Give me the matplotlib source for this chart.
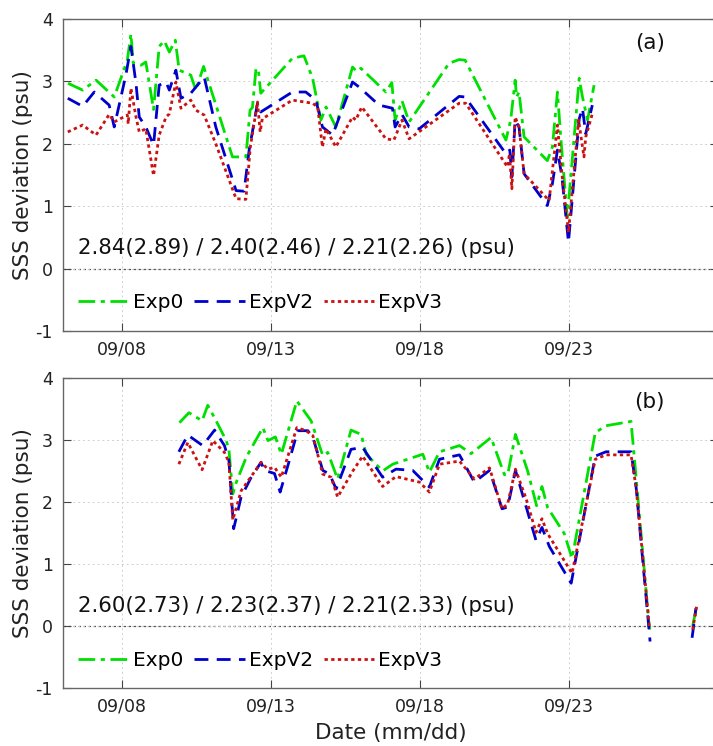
import numpy as np
import matplotlib
matplotlib.use("Agg")
import matplotlib.pyplot as plt

plt.rcParams['font.family'] = ['DejaVu Sans']
plt.rcParams['axes.unicode_minus'] = False

# ---------------- data (day of September, SSS deviation in psu) ----------------
series_names = ["Exp0", "ExpV2", "ExpV3"]
tick_days = [8, 13, 18, 23]
tick_labels = ["09/08", "09/13", "09/18", "09/23"]
ytick_vals = [-1, 0, 1, 2, 3, 4]
stats_a = "2.84(2.89) / 2.40(2.46) / 2.21(2.26) (psu)"
stats_b = "2.60(2.73) / 2.23(2.37) / 2.21(2.33) (psu)"
panel_tags = ["(a)", "(b)"]

# Panel (a)
a_exp0_day = [6.18, 6.67, 7.12, 7.73, 8.17, 8.29, 8.37, 8.63, 8.79, 9.05, 9.24, 9.41, 9.58, 9.78,
              9.91, 10.3, 10.47, 10.73, 11.7, 12.15, 12.29, 12.37, 12.49, 12.57, 12.65, 13.71,
              14.1, 14.39, 14.67, 14.84, 15.17, 15.73, 15.87, 16.01, 16.85, 17.05, 17.16, 17.39,
              17.63, 18.97, 19.31, 19.51, 20.88, 21.04, 21.19, 21.24, 21.32, 21.49, 22.27, 22.44,
              22.61, 22.72, 22.94, 23.34, 23.45, 23.62, 23.84]
a_exp0_val = [2.97, 2.86, 3.02, 2.75, 3.34, 3.76, 3.29, 3.26, 3.31, 2.55, 3.56, 3.65, 3.47, 3.66,
              3.18, 3.10, 2.86, 3.24, 1.79, 1.79, 2.54, 2.58, 3.21, 3.18, 2.81, 3.37,
              3.41, 3.05, 2.38, 2.59, 2.27, 3.23, 3.16, 3.21, 2.83, 2.98, 2.38, 2.69,
              2.35, 3.29, 3.35, 3.34, 2.06, 2.38, 3.02, 2.75, 2.83, 2.11, 1.73, 1.95,
              2.83, 2.11, 0.82, 3.05, 2.75, 2.38, 2.94]

a_expv2_day = [6.17, 6.67, 7.06, 7.56, 7.73, 8.12, 8.29, 8.46, 8.57, 8.79, 9.05, 9.24, 9.47, 9.58,
               9.8, 9.97, 10.3, 10.75, 11.14, 11.82, 12.09, 12.26, 12.54, 12.65, 13.71, 14.16,
               14.5, 14.72, 15.06, 15.73, 15.95, 16.62, 17.07, 17.16, 17.39, 17.63, 17.97, 19.31,
               19.51, 20.88, 21.01, 21.08, 21.19, 21.32, 21.49, 22.27, 22.44, 22.61, 22.76, 22.98,
               23.34, 23.45, 23.56, 23.78]
a_expv2_val = [2.73, 2.60, 2.83, 2.62, 2.27, 3.10, 3.56, 2.97, 2.43, 2.27, 1.98, 2.94, 2.99, 2.86,
               3.18, 2.73, 2.81, 3.07, 2.27, 1.25, 1.24, 1.90, 2.65, 2.51, 2.83, 2.83,
               2.70, 2.27, 2.14, 2.99, 2.91, 2.62, 2.57, 2.27, 2.47, 2.27, 2.24, 2.76,
               2.75, 1.84, 1.90, 1.47, 2.38, 2.27, 1.52, 1.01, 1.36, 1.90, 1.47, 0.42,
               2.40, 2.57, 2.16, 2.62]

a_expv3_day = [6.17, 6.67, 7.12, 7.56, 7.73, 8.17, 8.2, 8.29, 8.46, 8.57, 8.79, 9.05, 9.24, 9.47,
               9.58, 9.8, 9.97, 10.3, 10.47, 10.75, 11.14, 11.82, 12.15, 12.3, 12.54, 12.63, 12.7,
               13.71, 14.39, 14.56, 14.72, 14.84, 15.17, 15.73, 15.84, 16.04, 16.85, 17.12, 17.39,
               17.63, 19.31, 19.53, 20.93, 21.0, 21.08, 21.19, 21.32, 21.49, 22.33, 22.61, 22.76,
               22.98, 23.32, 23.5, 23.56, 23.78]
a_expv3_val = [2.19, 2.30, 2.14, 2.47, 2.35, 2.46, 2.32, 2.89, 2.43, 2.19, 2.24, 1.49, 2.14, 2.43,
               2.48, 2.99, 2.57, 2.70, 2.54, 2.46, 2.00, 1.12, 1.11, 1.95, 2.67, 2.19, 2.40,
               2.70, 2.65, 2.59, 1.95, 2.24, 1.95, 2.43, 2.38, 2.59, 2.08, 2.06, 2.38,
               2.08, 2.65, 2.65, 1.63, 1.84, 1.28, 2.43, 2.27, 1.52, 1.09, 2.30, 1.52,
               0.58, 2.38, 1.79, 2.11, 2.48]

# Panel (b)  (nan = data gap)
b_exp0_day = [9.92, 10.24, 10.68, 10.87, 11.15, 11.49, 11.58, 11.71, 11.83, 12.16, 12.72, 12.89,
              13.14, 13.34, 13.86, 14.34, 14.73, 14.9, 15.23, 15.68, 16.02, 16.19, 16.74, 17.08,
              18.09, 18.31, 18.65, 19.32, 19.71, 20.38, 20.83, 20.94, 21.2, 21.61, 21.91, 22.09,
              22.28, 22.84, 23.1, 23.88, 24.24, 25.08, 25.25, 25.7, 26.4, 27.15, 27.28]
b_exp0_val = [3.28, 3.44, 3.31, 3.56, 3.31, 2.99, 2.85, 2.13, 2.32, 2.72, 3.20, 2.99,
              3.05, 2.77, 3.63, 3.31, 2.75, 2.80, 2.37, 3.16, 3.09, 2.77, 2.50, 2.61,
              2.77, 2.48, 2.81, 2.91, 2.78, 3.04, 2.44, 2.44, 3.09, 2.50, 1.94, 2.25,
              1.91, 1.49, 1.09, 3.12, 3.23, 3.30, 2.40, -0.06, np.nan, 0.00, 0.31]

b_expv2_day = [9.9, 10.2, 10.7, 11.1, 11.43, 11.58, 11.74, 11.99, 12.33, 12.66, 12.77, 13.11,
               13.3, 13.61, 13.89, 14.23, 14.4, 14.73, 14.96, 15.18, 15.68, 16.07, 16.74, 17.19,
               17.75, 18.31, 18.65, 19.32, 19.82, 20.33, 20.75, 20.94, 21.2, 21.89, 22.09, 22.34,
               23.07, 23.88, 24.24, 25.08, 25.25, 25.72, 26.4, 27.13, 27.26]
b_expv2_val = [2.81, 3.08, 2.91, 3.16, 2.91, 2.67, 1.57, 2.08, 2.40, 2.64, 2.51, 2.46,
               2.16, 2.67, 3.15, 3.15, 3.04, 2.51, 2.45, 2.21, 2.85, 2.88, 2.40, 2.53,
               2.51, 2.24, 2.69, 2.76, 2.32, 2.51, 1.89, 1.92, 2.51, 1.38, 1.59, 1.28,
               0.69, 2.74, 2.81, 2.81, 2.24, -0.25, np.nan, -0.19, 0.29]

b_expv3_day = [9.9, 10.2, 10.68, 11.04, 11.43, 11.58, 11.71, 11.99, 12.66, 12.89, 13.11, 13.34,
               13.86, 14.17, 14.4, 14.73, 15.01, 15.23, 15.74, 16.07, 16.74, 17.19, 17.98, 18.31,
               18.65, 19.32, 19.82, 20.33, 20.75, 20.94, 21.2, 21.56, 21.89, 22.09, 22.28, 23.1,
               23.88, 24.24, 25.08, 25.25, 25.7, 26.4, 27.15, 27.28]
b_expv3_val = [2.61, 2.96, 2.52, 2.99, 2.80, 2.64, 1.71, 2.18, 2.64, 2.53, 2.56, 2.40,
               3.20, 3.15, 3.07, 2.45, 2.40, 2.08, 2.50, 2.74, 2.25, 2.41, 2.32, 2.16,
               2.61, 2.66, 2.37, 2.55, 1.89, 1.97, 2.53, 2.05, 1.51, 1.73, 1.49, 0.85,
               2.69, 2.76, 2.76, 2.24, -0.03, np.nan, -0.06, 0.31]

# ---------------- figure ----------------
W, H = 713, 746
fig = plt.figure(figsize=(W / 100, H / 100), dpi=100)

ax_left = 62.7 / W
ax_w = (718 - 62.7) / W
ax_a = fig.add_axes([ax_left, (H - 331) / H, ax_w, (331 - 19) / H])
ax_b = fig.add_axes([ax_left, (H - 688) / H, ax_w, (688 - 378) / H])

colors = ["#00e000", "#0000cc", "#cc1111"]
styles = [(0, (6, 2, 1.5, 2)), (0, (5, 3)), (0, (1.2, 1.2))]

panels = [
    (ax_a, [(a_exp0_day, a_exp0_val), (a_expv2_day, a_expv2_val), (a_expv3_day, a_expv3_val)], stats_a, panel_tags[0]),
    (ax_b, [(b_exp0_day, b_exp0_val), (b_expv2_day, b_expv2_val), (b_expv3_day, b_expv3_val)], stats_b, panel_tags[1]),
]

for ax, data, stats, tag in panels:
    for (d, v), name, c, ls in zip(data, series_names, colors, styles):
        ax.plot(d, v, color=c, linestyle=ls, lw=2.0, label=name)
    ax.axhline(0, color="#555555", lw=0.9, ls=(0, (2, 2)), zorder=1)
    ax.set_xlim(6, 28)
    ax.set_ylim(-1, 4)
    ax.set_xticks(tick_days)
    ax.set_xticklabels(tick_labels)
    ax.set_yticks(ytick_vals)
    ax.set_yticklabels([str(t) for t in ytick_vals])
    ax.grid(True, color="#d0d0d0", ls=(0, (2, 3)), lw=0.7)
    ax.tick_params(direction="in", top=True, right=True, length=6, width=0.8,
                   labelsize=12.5, colors="#444444", labelcolor="#222222", pad=7)
    for s in ax.spines.values():
        s.set_color("#666666")
        s.set_linewidth(1.0)
    ax.set_ylabel("SSS deviation (psu)", fontsize=15.5, color="#222222", labelpad=2)
    ax.text(0.023, 0.266, stats, transform=ax.transAxes, fontsize=15.3,
            color="#111111", va="center", ha="left")
    ax.text(0.896, 0.923, tag, transform=ax.transAxes, fontsize=15.5,
            color="#111111", va="center", ha="center")
    ax.legend(loc="center left", bbox_to_anchor=(0.024, 0.09), ncol=3, frameon=False,
              fontsize=14.5, handlelength=2.5, handletextpad=0.2, columnspacing=0.55,
              borderpad=0, borderaxespad=0)

ax_b.set_xlabel("Date (mm/dd)", fontsize=15.5, color="#222222", labelpad=5)

fig.savefig("out.png", dpi=100)
